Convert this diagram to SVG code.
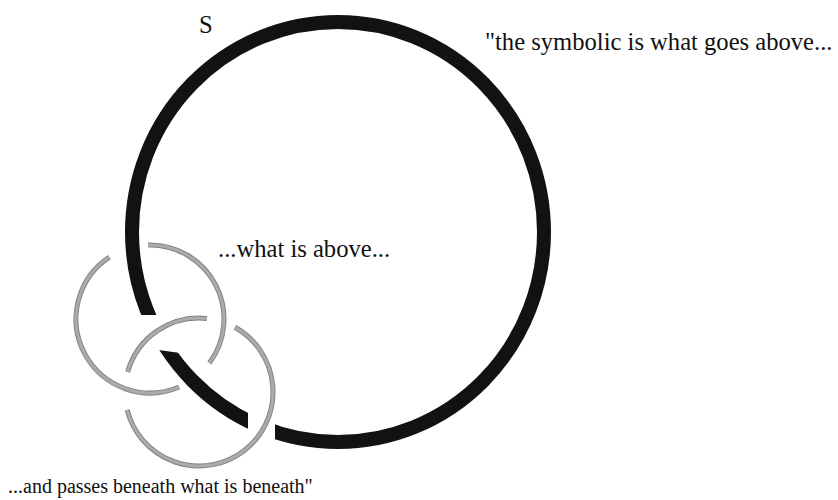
<svg xmlns="http://www.w3.org/2000/svg" width="838" height="500" viewBox="0 0 838 500">
  <style>
    .lbl { font-family: "Liberation Serif", "Times New Roman", serif; fill: #111; }
    .big { font-size: 24.6px; }
    .small { font-size: 20px; }
    .black { fill: none; stroke: #121212; stroke-width: 14; }
    .gedge { fill: none; stroke: #858585; stroke-width: 5; stroke-linecap: butt; }
    .gfill { fill: none; stroke: #ababab; stroke-width: 3; stroke-linecap: butt; }
  </style>
  <defs>
    <mask id="gaps" maskUnits="userSpaceOnUse" x="0" y="0" width="838" height="500">
      <rect x="0" y="0" width="838" height="500" fill="#fff"/>
      <polygon points="115,315 175,315 186,353.7 140,347.6" fill="#000"/>
      <rect x="248" y="400" width="27" height="55" fill="#000"/>
    </mask>
  </defs>
  <rect width="838" height="500" fill="#fff"/>

  <g id="ring-S">
    <ellipse class="black" cx="338" cy="232" rx="206" ry="210" mask="url(#gaps)"/>
  </g>

  <g id="ring-A">
    <path class="gedge" d="M148.1,245 A74,74 0 0 1 209.4,363.1"/>
    <path class="gfill" d="M148.1,245 A74,74 0 0 1 209.4,363.1"/>
    <path class="gedge" d="M179.1,387 A74,74 0 0 1 109.4,257.1"/>
    <path class="gfill" d="M179.1,387 A74,74 0 0 1 109.4,257.1"/>
  </g>

  <g id="ring-C">
    <path class="gedge" d="M234.9,327.3 A74,74 0 1 1 127.2,409.9"/>
    <path class="gfill" d="M234.9,327.3 A74,74 0 1 1 127.2,409.9"/>
    <path class="gedge" d="M127.7,372 A74,74 0 0 1 207,318.4"/>
    <path class="gfill" d="M127.7,372 A74,74 0 0 1 207,318.4"/>
  </g>

  <g id="labels">
    <text class="lbl big" x="199" y="33">S</text>
    <text class="lbl big" x="485" y="50">"the symbolic is what goes above...</text>
    <text class="lbl big" x="218" y="257">...what is above...</text>
    <text class="lbl small" x="8" y="493">...and passes beneath what is beneath"</text>
  </g>
</svg>
